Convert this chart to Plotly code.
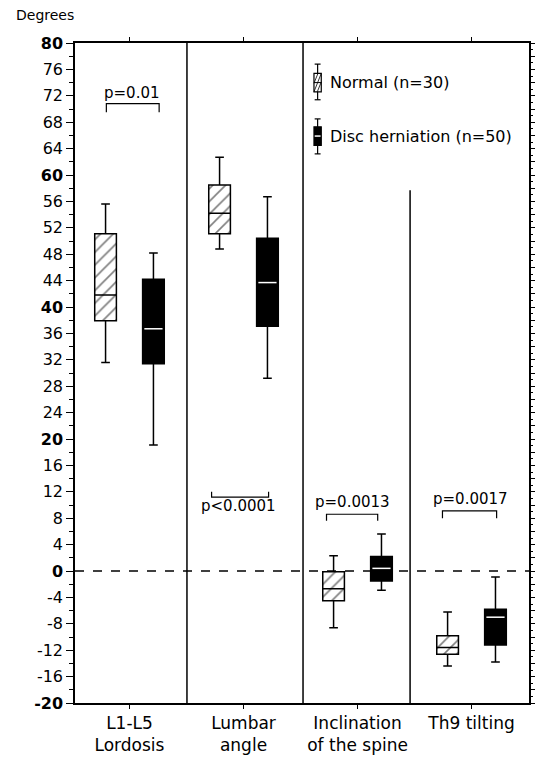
import plotly.graph_objects as go

# ---------------- data ----------------
categories = ["L1-L5<br>Lordosis", "Lumbar<br>angle", "Inclination<br>of the spine", "Th9 tilting"]
cat_pos = [0, 1, 2, 3]

normal_lo = [31.6, 48.8, -8.6, -14.4]
normal_q1 = [37.9, 51.1, -4.5, -12.6]
normal_med = [41.8, 54.2, -2.7, -11.6]
normal_q3 = [51.1, 58.5, -0.1, -9.8]
normal_hi = [55.6, 62.7, 2.3, -6.2]

disc_lo = [19.1, 29.2, -2.9, -13.8]
disc_q1 = [31.4, 37.1, -1.5, -11.2]
disc_med = [36.7, 43.7, 0.4, -7.0]
disc_q3 = [44.2, 50.4, 2.2, -5.8]
disc_hi = [48.2, 56.7, 5.6, -0.9]

p_labels = ["p=0.01", "p<0.0001", "p=0.0013", "p=0.0017"]

y_ticks = list(range(-20, 81, 4))
y_ticktext = [f"<b>{v}</b>" if v % 20 == 0 else str(v) for v in y_ticks]

legend_labels = ["Normal (n=30)", "Disc herniation (n=50)"]

# ---------------- layout helpers ----------------
FONT = "DejaVu Sans"
OFF = 0.21
BW = 0.19
normal_x = [c - OFF for c in cat_pos]
disc_x = [c + OFF for c in cat_pos]

fig = go.Figure()

# hatch fill for Normal boxes (bar underneath the box outline)
fig.add_trace(go.Bar(
    x=normal_x, base=normal_q1,
    y=[q3 - q1 for q1, q3 in zip(normal_q1, normal_q3)],
    width=BW,
    marker=dict(color="white", line=dict(width=0),
                pattern=dict(shape="/", fgcolor="black", bgcolor="white",
                             size=9, solidity=0.18)),
    showlegend=False, hoverinfo="skip",
))

fig.add_trace(go.Box(
    name=legend_labels[0], x=normal_x,
    lowerfence=normal_lo, q1=normal_q1, median=normal_med, q3=normal_q3, upperfence=normal_hi,
    width=BW, whiskerwidth=0.4, fillcolor="rgba(0,0,0,0)",
    line=dict(color="black", width=1.5), boxpoints=False, showlegend=False,
))
fig.add_trace(go.Box(
    name=legend_labels[1], x=disc_x,
    lowerfence=disc_lo, q1=disc_q1, median=disc_med, q3=disc_q3, upperfence=disc_hi,
    width=BW, whiskerwidth=0.4, fillcolor="black",
    line=dict(color="black", width=1.5), boxpoints=False, showlegend=False,
))

# white median lines on the black boxes
mx, my = [], []
for x, m in zip(disc_x, disc_med):
    mx += [x - BW * 0.42, x + BW * 0.42, None]
    my += [m, m, None]
fig.add_trace(go.Scatter(x=mx, y=my, mode="lines", line=dict(color="white", width=1.5),
                         showlegend=False, hoverinfo="skip"))

# dummy trace for right axis
fig.add_trace(go.Scatter(x=[None], y=[None], yaxis="y2", showlegend=False, hoverinfo="skip"))

shapes = []
# dividers
for xd in [0.504, 1.522]:
    shapes.append(dict(type="line", xref="x", yref="paper", x0=xd, x1=xd, y0=0, y1=1,
                       line=dict(color="black", width=1.5)))
shapes.append(dict(type="line", xref="x", yref="y", x0=2.461, x1=2.461, y0=-20, y1=57.7,
                   line=dict(color="black", width=1.5)))
# zero line
shapes.append(dict(type="line", xref="paper", yref="y", x0=0, x1=1, y0=0, y1=0,
                   line=dict(color="black", width=1.5, dash="dash")))

# p-value brackets: (x0, x1, y bar, y ends)
brackets = [(-0.203, 0.26, 70.8, 69.5), (0.72, 1.22, 11.2, 12.0),
            (1.728, 2.177, 8.6, 7.6), (2.745, 3.22, 9.1, 8.0)]
for x0, x1, yb, ye in brackets:
    shapes.append(dict(type="path", xref="x", yref="y",
                       path=f"M {x0} {ye} L {x0} {yb} L {x1} {yb} L {x1} {ye}",
                       line=dict(color="black", width=1.2)))
p_pos = [(0.026, 72.5), (0.957, 9.8), (1.957, 10.4), (2.99, 10.9)]

annotations = []
for (px, py), t in zip(p_pos, p_labels):
    annotations.append(dict(x=px, y=py, xref="x", yref="y", text=t, showarrow=False,
                            xanchor="center", yanchor="middle",
                            font=dict(family=FONT, size=15, color="black")))

# legend icons
lx, hw, cw = 1.65, 0.032, 0.026
# normal icon
shapes.append(dict(type="line", x0=lx, x1=lx, y0=71.4, y1=76.8, xref="x", yref="y",
                   line=dict(color="black", width=1.2)))
for yy in (71.4, 76.8):
    shapes.append(dict(type="line", x0=lx - cw, x1=lx + cw, y0=yy, y1=yy, xref="x", yref="y",
                       line=dict(color="black", width=1.2)))
shapes.append(dict(type="rect", x0=lx - hw, x1=lx + hw, y0=72.6, y1=75.4, xref="x", yref="y",
                   fillcolor="white", line=dict(color="black", width=1.2)))
for (a0, b0, a1, b1) in [(-1, 72.6, 1, 75.4), (-1, 73.9, 0.1, 75.4), (-0.1, 72.6, 1, 74.1)]:
    shapes.append(dict(type="line", x0=lx + a0 * hw, x1=lx + a1 * hw, y0=b0, y1=b1,
                       xref="x", yref="y", line=dict(color="black", width=0.8)))
shapes.append(dict(type="line", x0=lx - hw, x1=lx + hw, y0=74.0, y1=74.0, xref="x", yref="y",
                   line=dict(color="black", width=1)))
# disc icon
shapes.append(dict(type="line", x0=lx, x1=lx, y0=63.2, y1=68.5, xref="x", yref="y",
                   line=dict(color="black", width=1.2)))
for yy in (63.2, 68.5):
    shapes.append(dict(type="line", x0=lx - cw, x1=lx + cw, y0=yy, y1=yy, xref="x", yref="y",
                       line=dict(color="black", width=1.2)))
shapes.append(dict(type="rect", x0=lx - hw, x1=lx + hw, y0=64.5, y1=67.3, xref="x", yref="y",
                   fillcolor="black", line=dict(color="black", width=1.2)))
shapes.append(dict(type="line", x0=lx - hw * 0.8, x1=lx + hw * 0.8, y0=65.9, y1=65.9,
                   xref="x", yref="y", line=dict(color="white", width=1.5)))

for yy, t in zip([74.0, 65.9], legend_labels):
    annotations.append(dict(x=1.744, y=yy, xref="x", yref="y", text=t, showarrow=False,
                            xanchor="left", yanchor="middle",
                            font=dict(family=FONT, size=16, color="black")))

annotations.append(dict(x=-0.0655, y=1.042, xref="paper", yref="paper", text="Degrees",
                        showarrow=False, xanchor="center", yanchor="middle",
                        font=dict(family=FONT, size=14, color="black")))

fig.update_layout(
    width=537, height=759,
    margin=dict(l=75, r=4, t=43, b=56),
    paper_bgcolor="white", plot_bgcolor="white",
    boxmode="overlay", barmode="overlay",
    showlegend=False,
    font=dict(family=FONT, color="black"),
    shapes=shapes, annotations=annotations,
    xaxis=dict(range=[-0.478, 3.504], tickmode="array", tickvals=cat_pos, ticktext=categories,
               ticks="outside", ticklen=4, tickwidth=1.2, tickcolor="black",
               showline=True, linecolor="black", linewidth=1.5, mirror="ticks",
               showgrid=False, zeroline=False,
               tickfont=dict(family=FONT, size=17, color="black")),
    yaxis=dict(range=[-20, 80], tickmode="array", tickvals=y_ticks, ticktext=y_ticktext,
               ticks="outside", ticklen=7, tickwidth=1.2, tickcolor="black",
               minor=dict(tickmode="linear", tick0=0, dtick=2, ticks="outside", ticklen=4,
                          tickwidth=1, tickcolor="black"),
               showline=True, linecolor="black", linewidth=1.5, mirror=False,
               showgrid=False, zeroline=False,
               tickfont=dict(family=FONT, size=16, color="black")),
    yaxis2=dict(range=[-20, 80], overlaying="y", side="right", anchor="x",
                tickmode="linear", tick0=0, dtick=2, ticks="outside", ticklen=4,
                tickwidth=1, tickcolor="black",
                minor=dict(tickmode="linear", tick0=0, dtick=1, ticks="outside", ticklen=2,
                           tickwidth=1, tickcolor="black"),
                showticklabels=False, showline=True, linecolor="black", linewidth=1.5,
                showgrid=False, zeroline=False),
)

fig.write_html("out.html", config={"displayModeBar": False},
               post_script="document.body.style.margin='0px';document.body.style.padding='0px';")
